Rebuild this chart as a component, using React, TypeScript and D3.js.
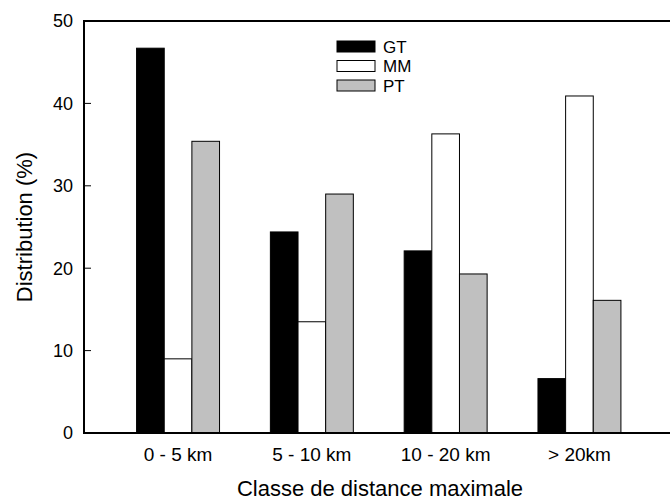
import { scaleBand, scaleLinear } from 'd3'

const CATEGORIES = ['0 - 5 km', '5 - 10 km', '10 - 20 km', '> 20km']
const SERIES = ['GT', 'MM', 'PT']
const GT = [46.7, 24.4, 22.1, 6.6]
const MM = [9.0, 13.5, 36.3, 40.9]
const PT = [35.4, 29.0, 19.3, 16.1]
const Y_TICKS = [0, 10, 20, 30, 40, 50]

const VALUES: Record<string, number[]> = { GT, MM, PT }
const FILLS: Record<string, string> = { GT: '#000000', MM: '#ffffff', PT: '#c0c0c0' }

const W = 670
const H = 502
const LEFT = 84
const RIGHT = 673.5
const TOP = 21
const BOTTOM = 433
const FONT = 'Arial, "Liberation Sans", sans-serif'

export default function App() {
  const x = scaleBand<string>().domain(CATEGORIES).range([LEFT, RIGHT]).paddingInner(0.38).paddingOuter(0.393)
  const sub = scaleBand<string>().domain(SERIES).range([0, x.bandwidth()])
  const y = scaleLinear().domain([0, 50]).range([BOTTOM, TOP])

  return (
    <svg
      width={W}
      height={H}
      style={{ position: 'absolute', left: 0, top: 0 }}
      fontFamily={FONT}
    >
      <rect x={0} y={0} width={W} height={H} fill="#fff" />

      {CATEGORIES.map((c, i) =>
        SERIES.map((s) => (
          <rect
            key={c + s}
            x={(x(c) ?? 0) + (sub(s) ?? 0)}
            y={y(VALUES[s][i])}
            width={sub.bandwidth()}
            height={BOTTOM - y(VALUES[s][i])}
            fill={FILLS[s]}
            stroke="#000"
            strokeWidth={1}
          />
        ))
      )}

      {/* frame */}
      <rect x={LEFT} y={TOP} width={RIGHT - LEFT} height={BOTTOM - TOP} fill="none" stroke="#000" strokeWidth={2} />

      {Y_TICKS.map((t) => (
        <g key={t}>
          <line x1={LEFT} x2={LEFT + 7} y1={y(t)} y2={y(t)} stroke="#000" strokeWidth={1} />
          <text x={73} y={y(t)} dy="0.36em" textAnchor="end" fontSize={18}>
            {t}
          </text>
        </g>
      ))}

      {CATEGORIES.map((c) => (
        <text key={c} x={(x(c) ?? 0) + x.bandwidth() / 2} y={461} textAnchor="middle" fontSize={19}>
          {c}
        </text>
      ))}

      <text x={380} y={496} textAnchor="middle" fontSize={22}>
        Classe de distance maximale
      </text>
      <text
        transform={`translate(32 ${(TOP + BOTTOM) / 2}) rotate(-90)`}
        textAnchor="middle"
        fontSize={22}
      >
        Distribution (%)
      </text>

      {SERIES.map((s, i) => (
        <g key={s} transform={`translate(337 ${41 + i * 19.5})`}>
          <rect x={0} y={0} width={38} height={11} fill={FILLS[s]} stroke="#000" strokeWidth={1} />
          <text x={46} y={5.5} dy="0.36em" fontSize={17}>
            {s}
          </text>
        </g>
      ))}
    </svg>
  )
}
